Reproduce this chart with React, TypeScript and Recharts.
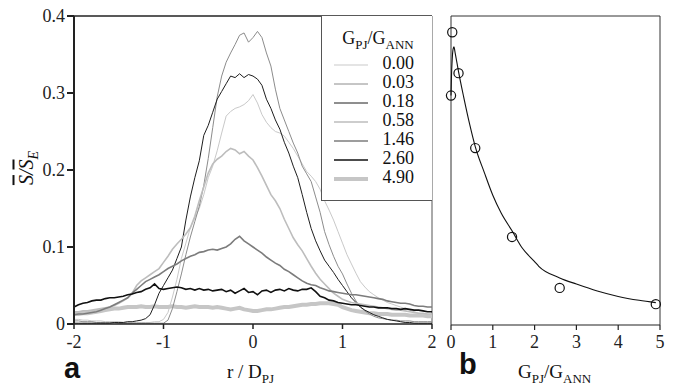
import React from "react";
import {
  LineChart,
  ComposedChart,
  Line,
  Scatter,
  XAxis,
  YAxis,
  ReferenceLine,
} from "recharts";

// panel a: radial position r / D_PJ
const R = [
  -2, -1.95, -1.9, -1.85, -1.8, -1.75, -1.7, -1.65, -1.6, -1.55,
  -1.5, -1.45, -1.4, -1.35, -1.3, -1.25, -1.2, -1.15, -1.1, -1.05,
  -1, -0.95, -0.9, -0.85, -0.8, -0.75, -0.7, -0.65, -0.6, -0.55,
  -0.5, -0.45, -0.4, -0.35, -0.3, -0.25, -0.2, -0.15, -0.1, -0.05,
  0, 0.05, 0.1, 0.15, 0.2, 0.25, 0.3, 0.35, 0.4, 0.45,
  0.5, 0.55, 0.6, 0.65, 0.7, 0.75, 0.8, 0.85, 0.9, 0.95,
  1, 1.05, 1.1, 1.15, 1.2, 1.25, 1.3, 1.35, 1.4, 1.45,
  1.5, 1.55, 1.6, 1.65, 1.7, 1.75, 1.8, 1.85, 1.9, 1.95,
  2,
];

const G000 = [
  0.006, 0.006, 0.005, 0.005, 0.004, 0.004, 0.004, 0.003, 0.003, 0.003,
  0.003, 0.002, 0.002, 0.002, 0.002, 0.002, 0.002, 0.002, 0.003, 0.003,
  0.006, 0.015, 0.035, 0.058, 0.085, 0.105, 0.125, 0.138, 0.15, 0.168,
  0.19, 0.205, 0.225, 0.248, 0.27, 0.276, 0.28, 0.282, 0.285, 0.29,
  0.298, 0.287, 0.272, 0.262, 0.255, 0.25, 0.248, 0.244, 0.236, 0.228,
  0.218, 0.208, 0.198, 0.192, 0.185, 0.175, 0.16, 0.148, 0.135, 0.12,
  0.105, 0.09, 0.078, 0.066, 0.055, 0.048, 0.042, 0.038, 0.034, 0.031,
  0.028, 0.026, 0.024, 0.022, 0.02, 0.018, 0.016, 0.014, 0.013, 0.012,
  0.011,
];

const G003 = [
  0.004, 0.004, 0.003, 0.003, 0.003, 0.002, 0.002, 0.002, 0.002, 0.002,
  0.001, 0.001, 0.001, 0.001, 0.001, 0.001, 0.001, 0.001, 0.001, 0.001,
  0.001, 0.005, 0.02, 0.042, 0.065, 0.09, 0.113, 0.133, 0.153, 0.18,
  0.215, 0.255, 0.295, 0.322, 0.34, 0.352, 0.363, 0.375, 0.378, 0.366,
  0.372, 0.38, 0.372, 0.352, 0.335, 0.305, 0.28, 0.265, 0.25, 0.235,
  0.222, 0.205, 0.195, 0.185, 0.165, 0.145, 0.12, 0.103, 0.088, 0.075,
  0.065, 0.052, 0.04, 0.03, 0.022, 0.017, 0.013, 0.01, 0.008, 0.007,
  0.006, 0.005, 0.005, 0.004, 0.004, 0.004, 0.003, 0.003, 0.003, 0.003,
  0.003,
];

const G018 = [
  0.001, 0.001, 0.001, 0.001, 0.001, 0.001, 0.001, 0.001, 0.001, 0.002,
  0.002, 0.002, 0.003, 0.003, 0.004, 0.005, 0.007, 0.012, 0.025, 0.04,
  0.05, 0.06, 0.07, 0.085, 0.1, 0.135, 0.165, 0.19, 0.212, 0.245,
  0.258, 0.275, 0.292, 0.302, 0.312, 0.322, 0.32, 0.325, 0.32, 0.324,
  0.322, 0.318, 0.31, 0.292, 0.28, 0.265, 0.253, 0.236, 0.222, 0.205,
  0.19, 0.168, 0.145, 0.124, 0.108, 0.095, 0.083, 0.075, 0.067, 0.058,
  0.05, 0.042, 0.034, 0.028, 0.022, 0.018, 0.015, 0.012, 0.01, 0.008,
  0.006, 0.005, 0.004, 0.003, 0.002, 0.002, 0.001, 0.001, 0.001, 0.001,
  0.001,
];

const G058 = [
  0.016, 0.016, 0.017, 0.017, 0.018, 0.019, 0.02, 0.021, 0.022, 0.024,
  0.027, 0.03, 0.034, 0.04, 0.05, 0.056, 0.06, 0.064, 0.068, 0.072,
  0.08, 0.088, 0.097, 0.104, 0.11, 0.117, 0.125, 0.14, 0.16, 0.178,
  0.196, 0.208, 0.214, 0.218, 0.224, 0.228, 0.226, 0.221, 0.224, 0.218,
  0.213, 0.203, 0.192, 0.18, 0.168, 0.16, 0.15, 0.136, 0.124, 0.112,
  0.103, 0.095, 0.085, 0.075, 0.066, 0.058, 0.052, 0.046, 0.04, 0.036,
  0.032, 0.03, 0.028, 0.027, 0.026, 0.025, 0.024, 0.023, 0.022, 0.021,
  0.02, 0.019, 0.018, 0.018, 0.017, 0.016, 0.015, 0.014, 0.014, 0.013,
  0.013,
];

const G146 = [
  0.012, 0.013, 0.013, 0.014, 0.015, 0.016, 0.018, 0.02, 0.022, 0.025,
  0.028, 0.031, 0.034, 0.04, 0.045, 0.05, 0.055, 0.058, 0.061, 0.064,
  0.068, 0.072, 0.075, 0.078, 0.082, 0.085, 0.088, 0.09, 0.093, 0.094,
  0.096, 0.097, 0.096, 0.098, 0.1, 0.104, 0.11, 0.114, 0.108, 0.104,
  0.1, 0.096, 0.092, 0.087, 0.083, 0.079, 0.076, 0.071, 0.068, 0.064,
  0.06, 0.056, 0.053, 0.051, 0.05, 0.047, 0.045, 0.043, 0.042, 0.041,
  0.04, 0.039, 0.038, 0.038, 0.037, 0.036, 0.035, 0.034, 0.033, 0.032,
  0.03, 0.029, 0.028, 0.027, 0.027, 0.026, 0.024, 0.023, 0.023, 0.022,
  0.022,
];

const G260 = [
  0.022, 0.025, 0.027, 0.028, 0.03, 0.031, 0.031, 0.033, 0.034, 0.034,
  0.035, 0.036, 0.038, 0.039, 0.041, 0.042, 0.045, 0.047, 0.052, 0.046,
  0.045, 0.046, 0.047, 0.048, 0.047, 0.045, 0.046, 0.044, 0.046, 0.044,
  0.045, 0.043, 0.044, 0.045, 0.042, 0.044, 0.04, 0.043, 0.046, 0.041,
  0.042, 0.038, 0.043, 0.044, 0.041, 0.044, 0.045, 0.043, 0.046, 0.044,
  0.043, 0.045, 0.045, 0.047, 0.042, 0.036, 0.034, 0.031, 0.03, 0.028,
  0.027, 0.026, 0.025, 0.025, 0.024, 0.023, 0.022, 0.022, 0.021, 0.021,
  0.021, 0.02, 0.02, 0.019, 0.02, 0.019, 0.018, 0.018, 0.017, 0.016,
  0.016,
];

const G490 = [
  0.013, 0.013, 0.014, 0.014, 0.015, 0.016, 0.017, 0.018, 0.019, 0.02,
  0.02, 0.021, 0.022, 0.022, 0.022, 0.023, 0.022, 0.022, 0.023, 0.022,
  0.022, 0.022, 0.023, 0.022, 0.022, 0.021, 0.022, 0.023, 0.022, 0.022,
  0.022, 0.021, 0.022, 0.021, 0.02, 0.019, 0.02, 0.021, 0.019, 0.018,
  0.017, 0.017, 0.018, 0.019, 0.019, 0.02, 0.021, 0.022, 0.022, 0.023,
  0.024, 0.025, 0.025, 0.026, 0.026, 0.027, 0.027, 0.027, 0.026, 0.025,
  0.022, 0.02, 0.018, 0.017, 0.016, 0.015, 0.014, 0.014, 0.013, 0.013,
  0.013, 0.012, 0.012, 0.012, 0.012, 0.011, 0.011, 0.011, 0.011, 0.01,
  0.01,
];

const SERIES_KEYS = ["g000", "g003", "g018", "g058", "g146", "g260", "g490"];
const SERIES_VALUES = [G000, G003, G018, G058, G146, G260, G490];
const LEGEND_LABELS = ["0.00", "0.03", "0.18", "0.58", "1.46", "2.60", "4.90"];
const COLORS = ["#c9c9c9", "#8c8c8c", "#1e1e1e", "#bdbdbd", "#7c7c7c", "#111111", "#c6c6c6"];
const WIDTHS = [1, 1, 1, 1.6, 1.6, 1.6, 4];

const X_TICKS_A = [-2, -1, 0, 1, 2];
const Y_TICKS = [0, 0.1, 0.2, 0.3, 0.4];

// panel b: peak value against G_PJ/G_ANN
const RATIO = [0, 0.03, 0.18, 0.58, 1.46, 2.6, 4.9];
const PEAK = [0.297, 0.379, 0.326, 0.229, 0.114, 0.048, 0.027];
const FIT_X = [0, 0.01, 0.03, 0.05, 0.07, 0.1, 0.18, 0.3, 0.45, 0.58, 0.8, 1.0, 1.2, 1.46, 1.7, 2.0, 2.1, 2.6, 3.0, 3.5, 4.0, 4.5, 4.9];
const FIT_Y = [0.297, 0.32, 0.345, 0.357, 0.36, 0.352, 0.328, 0.296, 0.259, 0.231, 0.197, 0.168, 0.145, 0.122, 0.1, 0.082, 0.076, 0.061, 0.053, 0.044, 0.037, 0.032, 0.029];
const X_TICKS_B = [0, 1, 2, 3, 4, 5];

const SERIF = '"Liberation Serif", "Times New Roman", Times, "DejaVu Serif", serif';
const SANS = '"Liberation Sans", Arial, sans-serif';

const profileData = R.map((r, i) => {
  const row: Record<string, number> = { r };
  SERIES_KEYS.forEach((k, j) => {
    row[k] = SERIES_VALUES[j][i];
  });
  return row;
});
const peakData = RATIO.map((x, i) => ({ x, v: PEAK[i] }));
const fitData = FIT_X.map((x, i) => ({ x, v: FIT_Y[i] }));

const tickStyle = { fill: "#222", fontSize: 18, fontFamily: SERIF };

const OpenCircle = (props: any) => {
  const { cx, cy } = props;
  if (cx == null || cy == null) return null;
  return <circle cx={cx} cy={cy} r={4.6} fill="none" stroke="#111" strokeWidth={1.2} />;
};

const Legend = () => (
  <div
    style={{
      position: "absolute",
      left: 321,
      top: 16,
      width: 110,
      height: 184,
      borderLeft: "1px solid #555",
      borderBottom: "1px solid #555",
      background: "#fff",
      fontFamily: SERIF,
      color: "#111",
    }}
  >
    <div style={{ position: "absolute", left: 0, width: 112, top: 12, textAlign: "center", fontSize: 18 }}>
      G<sub style={{ fontSize: 13 }}>PJ</sub>/G<sub style={{ fontSize: 13 }}>ANN</sub>
    </div>
    {LEGEND_LABELS.map((label, i) => (
      <div key={label} style={{ position: "absolute", left: 0, top: 39 + i * 19, width: 110, height: 19 }}>
        <svg width={50} height={19} style={{ position: "absolute", left: 0, top: 0 }}>
          <line x1={12} x2={46} y1={10} y2={10} stroke={COLORS[i]} strokeWidth={WIDTHS[i]} />
        </svg>
        <span style={{ position: "absolute", right: 18, top: -1, fontSize: 18, lineHeight: "19px" }}>{label}</span>
      </div>
    ))}
  </div>
);

export default function App() {
  return (
    <div
      style={{
        position: "absolute",
        left: 0,
        top: 0,
        width: 677,
        height: 389,
        background: "#fff",
        fontFamily: SERIF,
        overflow: "hidden",
      }}
    >
      {/* panel a */}
      <div style={{ position: "absolute", left: 0, top: 0 }}>
        <LineChart
          width={445}
          height={389}
          data={profileData}
          margin={{ top: 16, right: 13, left: 0, bottom: 35 }}
        >
          <XAxis
            type="number"
            dataKey="r"
            domain={[-2, 2]}
            ticks={X_TICKS_A}
            tick={tickStyle}
            stroke="#222"
            strokeWidth={1.5}
            tickSize={5}
            tickMargin={6}
            height={30}
          />
          <YAxis
            type="number"
            domain={[0, 0.4]}
            ticks={Y_TICKS}
            tick={tickStyle}
            tickFormatter={(v: number) => (v === 0 ? "0" : v.toFixed(1))}
            stroke="#222"
            strokeWidth={2}
            tickSize={7}
            tickMargin={2}
            width={74}
          />
          <ReferenceLine y={0.4} stroke="#222" strokeWidth={1.5} />
          <ReferenceLine x={2} stroke="#555" strokeWidth={1} />
          {[6, 0, 1, 2, 3, 4, 5].map((i) => (
            <Line
              key={SERIES_KEYS[i]}
              dataKey={SERIES_KEYS[i]}
              type="linear"
              stroke={COLORS[i]}
              strokeWidth={WIDTHS[i]}
              dot={false}
              isAnimationActive={false}
            />
          ))}
        </LineChart>
      </div>

      <Legend />

      {/* panel b */}
      <div style={{ position: "absolute", left: 440, top: 0 }}>
        <ComposedChart width={237} height={389} margin={{ top: 16, right: 17, left: 11, bottom: 34 }}>
          <XAxis
            type="number"
            dataKey="x"
            domain={[0, 5]}
            ticks={X_TICKS_B}
            tick={tickStyle}
            stroke="#222"
            strokeWidth={1.2}
            tickSize={5}
            tickMargin={5}
            height={30}
            allowDuplicatedCategory={false}
          />
          <YAxis type="number" dataKey="v" domain={[0, 0.4]} hide />
          <ReferenceLine x={0} stroke="#333" strokeWidth={1} />
          <ReferenceLine y={0.4} stroke="#333" strokeWidth={1} />
          <ReferenceLine x={5} stroke="#333" strokeWidth={1} />
          <Line
            data={fitData}
            dataKey="v"
            type="monotone"
            stroke="#111"
            strokeWidth={1.1}
            dot={false}
            isAnimationActive={false}
          />
          <Scatter data={peakData} dataKey="v" shape={<OpenCircle />} isAnimationActive={false} />
        </ComposedChart>
      </div>

      {/* axis titles and panel letters */}
      <div
        style={{
          position: "absolute",
          left: 28,
          top: 168,
          transform: "translate(-50%, -50%) rotate(-90deg)",
          fontSize: 20,
          fontStyle: "italic",
          whiteSpace: "nowrap",
          color: "#111",
        }}
      >
        <span style={{ textDecoration: "overline" }}>S</span>/<span style={{ textDecoration: "overline" }}>S</span>
        <sub style={{ fontSize: 14 }}>E</sub>
      </div>
      <div style={{ position: "absolute", left: 227, top: 361, fontSize: 19, color: "#111", whiteSpace: "nowrap" }}>
        r / D<sub style={{ fontSize: 13 }}>PJ</sub>
      </div>
      <div style={{ position: "absolute", left: 518, top: 361, fontSize: 19, color: "#111", whiteSpace: "nowrap" }}>
        G<sub style={{ fontSize: 13 }}>PJ</sub>/G<sub style={{ fontSize: 13 }}>ANN</sub>
      </div>
      <div style={{ position: "absolute", left: 64, top: 352, fontSize: 29, fontWeight: "bold", fontFamily: SANS, color: "#111" }}>
        a
      </div>
      <div style={{ position: "absolute", left: 459, top: 348, fontSize: 29, fontWeight: "bold", fontFamily: SANS, color: "#111" }}>
        b
      </div>
    </div>
  );
}
